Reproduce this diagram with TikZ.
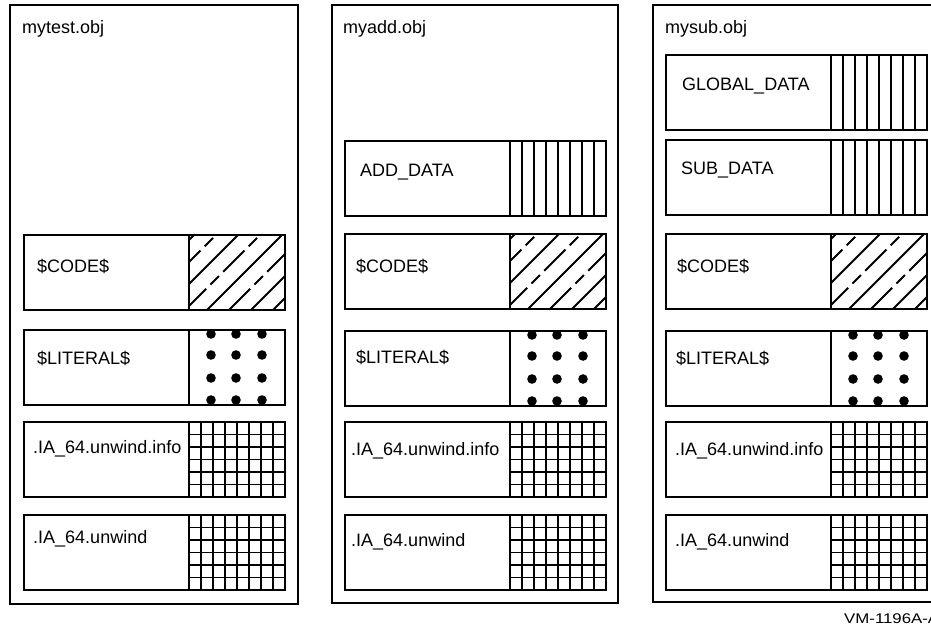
\documentclass[tikz,border=0pt]{standalone}
\usepackage{fontspec}
\setmainfont{Liberation Sans}
\newfontfamily\tagfont[FakeStretch=1.2]{Liberation Sans}
\usetikzlibrary{positioning,calc}

\tikzset{
  objframe/.style={draw, line width=1.4pt, anchor=north west, inner sep=0pt, outer sep=0pt},
  secbox/.style={draw, line width=1.4pt, anchor=north west, minimum width=165pt, minimum height=75pt, inner sep=0pt, outer sep=0pt},
  patbox/.style={draw, line width=1.4pt, minimum width=96pt, minimum height=75pt, inner sep=0pt, outer sep=0pt},
  dotbox/.style={patbox, line width=2.2pt},
  txt/.style={anchor=base west, inner sep=0pt, font=\fontsize{18}{21}\selectfont},
  patline/.style={line width=1.8pt},
}

% fills for the section boxes
\newcommand{\stripefill}[1]{%
  \foreach \i in {1,...,7}
    \draw[patline] ($(#1.north west)!\i/8!(#1.north east)$) -- ($(#1.south west)!\i/8!(#1.south east)$);}
\newcommand{\gridfill}[1]{%
  \foreach \i in {1,...,7}
    \draw[patline] ($(#1.north west)!\i/8!(#1.north east)$) -- ($(#1.south west)!\i/8!(#1.south east)$);
  \foreach \j in {1,...,5}
    \draw[patline] ($(#1.north west)!\j/6!(#1.south west)$) -- ($(#1.north east)!\j/6!(#1.south east)$);}
\newcommand{\spotfill}[1]{%
  \begin{scope}
    \clip (#1.north west) rectangle (#1.south east);
    \foreach \x in {22,47,73}
      \foreach \y in {4,25,48,70}
        \fill ([shift={(\x,\y)}]#1.north west) circle (4.8pt);
  \end{scope}}
\newcommand{\hatchfill}[1]{%
  \begin{scope}
    \clip (#1.north west) rectangle (#1.south east);
    \foreach \b [count=\k] in {-70,-48,...,90}{
      \ifodd\k
        \draw[patline] ([shift={(\b,75)}]#1.north west) -- ++(100,-100);
      \else
        \draw[patline, dash pattern=on 30pt off 6pt on 12pt off 6pt] ([shift={(\b,75)}]#1.north west) -- ++(100,-100);
      \fi}
  \end{scope}}

\begin{document}
\begin{tikzpicture}[x=1pt, y=-1pt]
\clip (0,0) rectangle (931,627);

% mytest.obj
\node[objframe, minimum width=288pt, minimum height=599pt] (mytest) at (10,5) {};
\node[txt] (mytesttitle) at ([shift={(12,28)}]mytest.north west) {mytest.obj};
\node[secbox] (tcode) at (24,235) {};
\node[patbox, right=0pt of tcode] (tcodep) {};
\node[txt] (tcodet) at ([shift={(13,37)}]tcode.north west) {\$CODE\$};
\node[secbox] (tlit) at (24,330) {};
\node[dotbox, right=0pt of tlit] (tlitp) {};
\node[txt] (tlitt) at ([shift={(13,34)}]tlit.north west) {\$LITERAL\$};
\node[secbox] (tinfo) at (24,422) {};
\node[patbox, right=0pt of tinfo] (tinfop) {};
\node[txt] (tinfot) at ([shift={(9,31)}]tinfo.north west) {.IA\_64.unwind.info};
\node[secbox] (tunw) at (24,515) {};
\node[patbox, right=0pt of tunw] (tunwp) {};
\node[txt] (tunwt) at ([shift={(9,28)}]tunw.north west) {.IA\_64.unwind};
\hatchfill{tcodep}
\spotfill{tlitp}
\gridfill{tinfop}
\gridfill{tunwp}

% myadd.obj
\node[objframe, minimum width=286pt, minimum height=598pt] (myadd) at (332,5) {};
\node[txt] (myaddtitle) at ([shift={(11,28)}]myadd.north west) {myadd.obj};
\node[secbox] (aadd) at (345,141) {};
\node[patbox, right=0pt of aadd] (aaddp) {};
\node[txt] (aaddt) at ([shift={(15,35)}]aadd.north west) {ADD\_DATA};
\node[secbox] (acode) at (345,234) {};
\node[patbox, right=0pt of acode] (acodep) {};
\node[txt] (acodet) at ([shift={(11,38)}]acode.north west) {\$CODE\$};
\node[secbox] (alit) at (345,331) {};
\node[dotbox, right=0pt of alit] (alitp) {};
\node[txt] (alitt) at ([shift={(11,32)}]alit.north west) {\$LITERAL\$};
\node[secbox] (ainfo) at (345,422) {};
\node[patbox, right=0pt of ainfo] (ainfop) {};
\node[txt] (ainfot) at ([shift={(6,33)}]ainfo.north west) {.IA\_64.unwind.info};
\node[secbox] (aunw) at (345,515) {};
\node[patbox, right=0pt of aunw] (aunwp) {};
\node[txt] (aunwt) at ([shift={(6,31)}]aunw.north west) {.IA\_64.unwind};
\stripefill{aaddp}
\hatchfill{acodep}
\spotfill{alitp}
\gridfill{ainfop}
\gridfill{aunwp}

% mysub.obj
\node[objframe, minimum width=290pt, minimum height=597pt] (mysub) at (653,5) {};
\node[txt] (mysubtitle) at ([shift={(12,28)}]mysub.north west) {mysub.obj};
\node[secbox] (sglob) at (666,55) {};
\node[patbox, right=0pt of sglob] (sglobp) {};
\node[txt] (sglobt) at ([shift={(16,35)}]sglob.north west) {GLOBAL\_DATA};
\node[secbox] (ssub) at (666,140) {};
\node[patbox, right=0pt of ssub] (ssubp) {};
\node[txt] (ssubt) at ([shift={(15,34)}]ssub.north west) {SUB\_DATA};
\node[secbox] (scode) at (666,234) {};
\node[patbox, right=0pt of scode] (scodep) {};
\node[txt] (scodet) at ([shift={(11,38)}]scode.north west) {\$CODE\$};
\node[secbox] (slit) at (666,331) {};
\node[dotbox, right=0pt of slit] (slitp) {};
\node[txt] (slitt) at ([shift={(10,33)}]slit.north west) {\$LITERAL\$};
\node[secbox] (sinfo) at (666,422) {};
\node[patbox, right=0pt of sinfo] (sinfop) {};
\node[txt] (sinfot) at ([shift={(9,33)}]sinfo.north west) {.IA\_64.unwind.info};
\node[secbox] (sunw) at (666,515) {};
\node[patbox, right=0pt of sunw] (sunwp) {};
\node[txt] (sunwt) at ([shift={(9,31)}]sunw.north west) {.IA\_64.unwind};
\stripefill{sglobp}
\stripefill{ssubp}
\hatchfill{scodep}
\spotfill{slitp}
\gridfill{sinfop}
\gridfill{sunwp}

\node[anchor=base west, inner sep=0pt, font={\tagfont\fontsize{14}{16}\selectfont}] (tag) at (844,623) {VM-1196A-A};
\end{tikzpicture}
\end{document}
